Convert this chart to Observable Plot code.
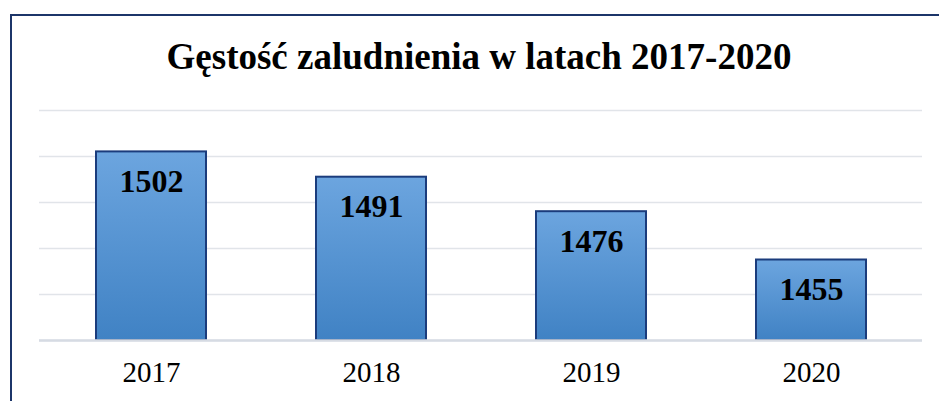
<!DOCTYPE html>
<html>
<head>
<meta charset="utf-8">
<script src="https://cdn.jsdelivr.net/npm/d3@7"></script>
<script src="https://cdn.jsdelivr.net/npm/@observablehq/plot@0.6"></script>
<style>
  html, body { margin: 0; padding: 0; background: #fff; }
  #wrap { position: relative; width: 939px; height: 401px; overflow: hidden; background: #fff; }
  #frame { position: absolute; left: 10px; top: 14px; width: 2000px; height: 2000px;
           border-left: 2px solid #1c3569; border-top: 2px solid #1c3569; box-sizing: border-box; }
  #title { position: absolute; left: 0; top: 38px; width: 958px; text-align: center;
           font-family: "Liberation Serif", "Times New Roman", serif; font-weight: bold;
           font-size: 37px; line-height: 1; color: #000; white-space: nowrap; }
  #chart { position: absolute; left: 0; top: 0; }
</style>
</head>
<body>
<div id="wrap">
  <div id="frame"></div>
  <div id="chart"></div>
  <div id="title">Gęstość zaludnienia w latach 2017-2020</div>
</div>
<script>
const years = ["2017", "2018", "2019", "2020"];
const values = [1502, 1491, 1476, 1455];
const yTicks = [1420, 1440, 1460, 1480, 1500, 1520];

const data = years.map((year, i) => ({year, value: values[i]}));

const defs = () => {
  const d = d3.create("svg:defs");
  const g = d.append("linearGradient").attr("id", "barGrad")
    .attr("x1", 0).attr("y1", 0).attr("x2", 0).attr("y2", 1);
  g.append("stop").attr("offset", "0%").attr("stop-color", "#6ca5df");
  g.append("stop").attr("offset", "100%").attr("stop-color", "#4082c4");
  return d.node();
};

const chart = Plot.plot({
  width: 939,
  height: 401,
  marginLeft: 39,
  marginRight: 17,
  marginTop: 110,
  marginBottom: 61,
  style: {background: "transparent", fontFamily: "'Liberation Serif', 'Times New Roman', serif"},
  x: {domain: years, paddingInner: 0.5, paddingOuter: 0.25, label: null},
  y: {domain: [1420, 1520], label: null},
  marks: [
    defs,
    Plot.ruleY(yTicks, {stroke: "#e1e4e9", strokeWidth: 1.6}),
    Plot.barY(data, {x: "year", y1: 1420, y2: "value", fill: "url(#barGrad)",
                     stroke: "#1b3c7c", strokeWidth: 2}),
    Plot.ruleY([1420], {stroke: "#d6dbe3", strokeWidth: 2.4}),
    Plot.text(data, {x: "year", y: "value", text: d => String(d.value), dy: 30,
                     fontSize: 32, fontWeight: "bold", fill: "#000"}),
    Plot.axisX({tickSize: 0, tickPadding: 21, fontSize: 29, fill: "#000", label: null}),
    Plot.axisY({ticks: [], label: null})
  ]
});
document.getElementById("chart").appendChild(chart);
</script>
</body>
</html>
